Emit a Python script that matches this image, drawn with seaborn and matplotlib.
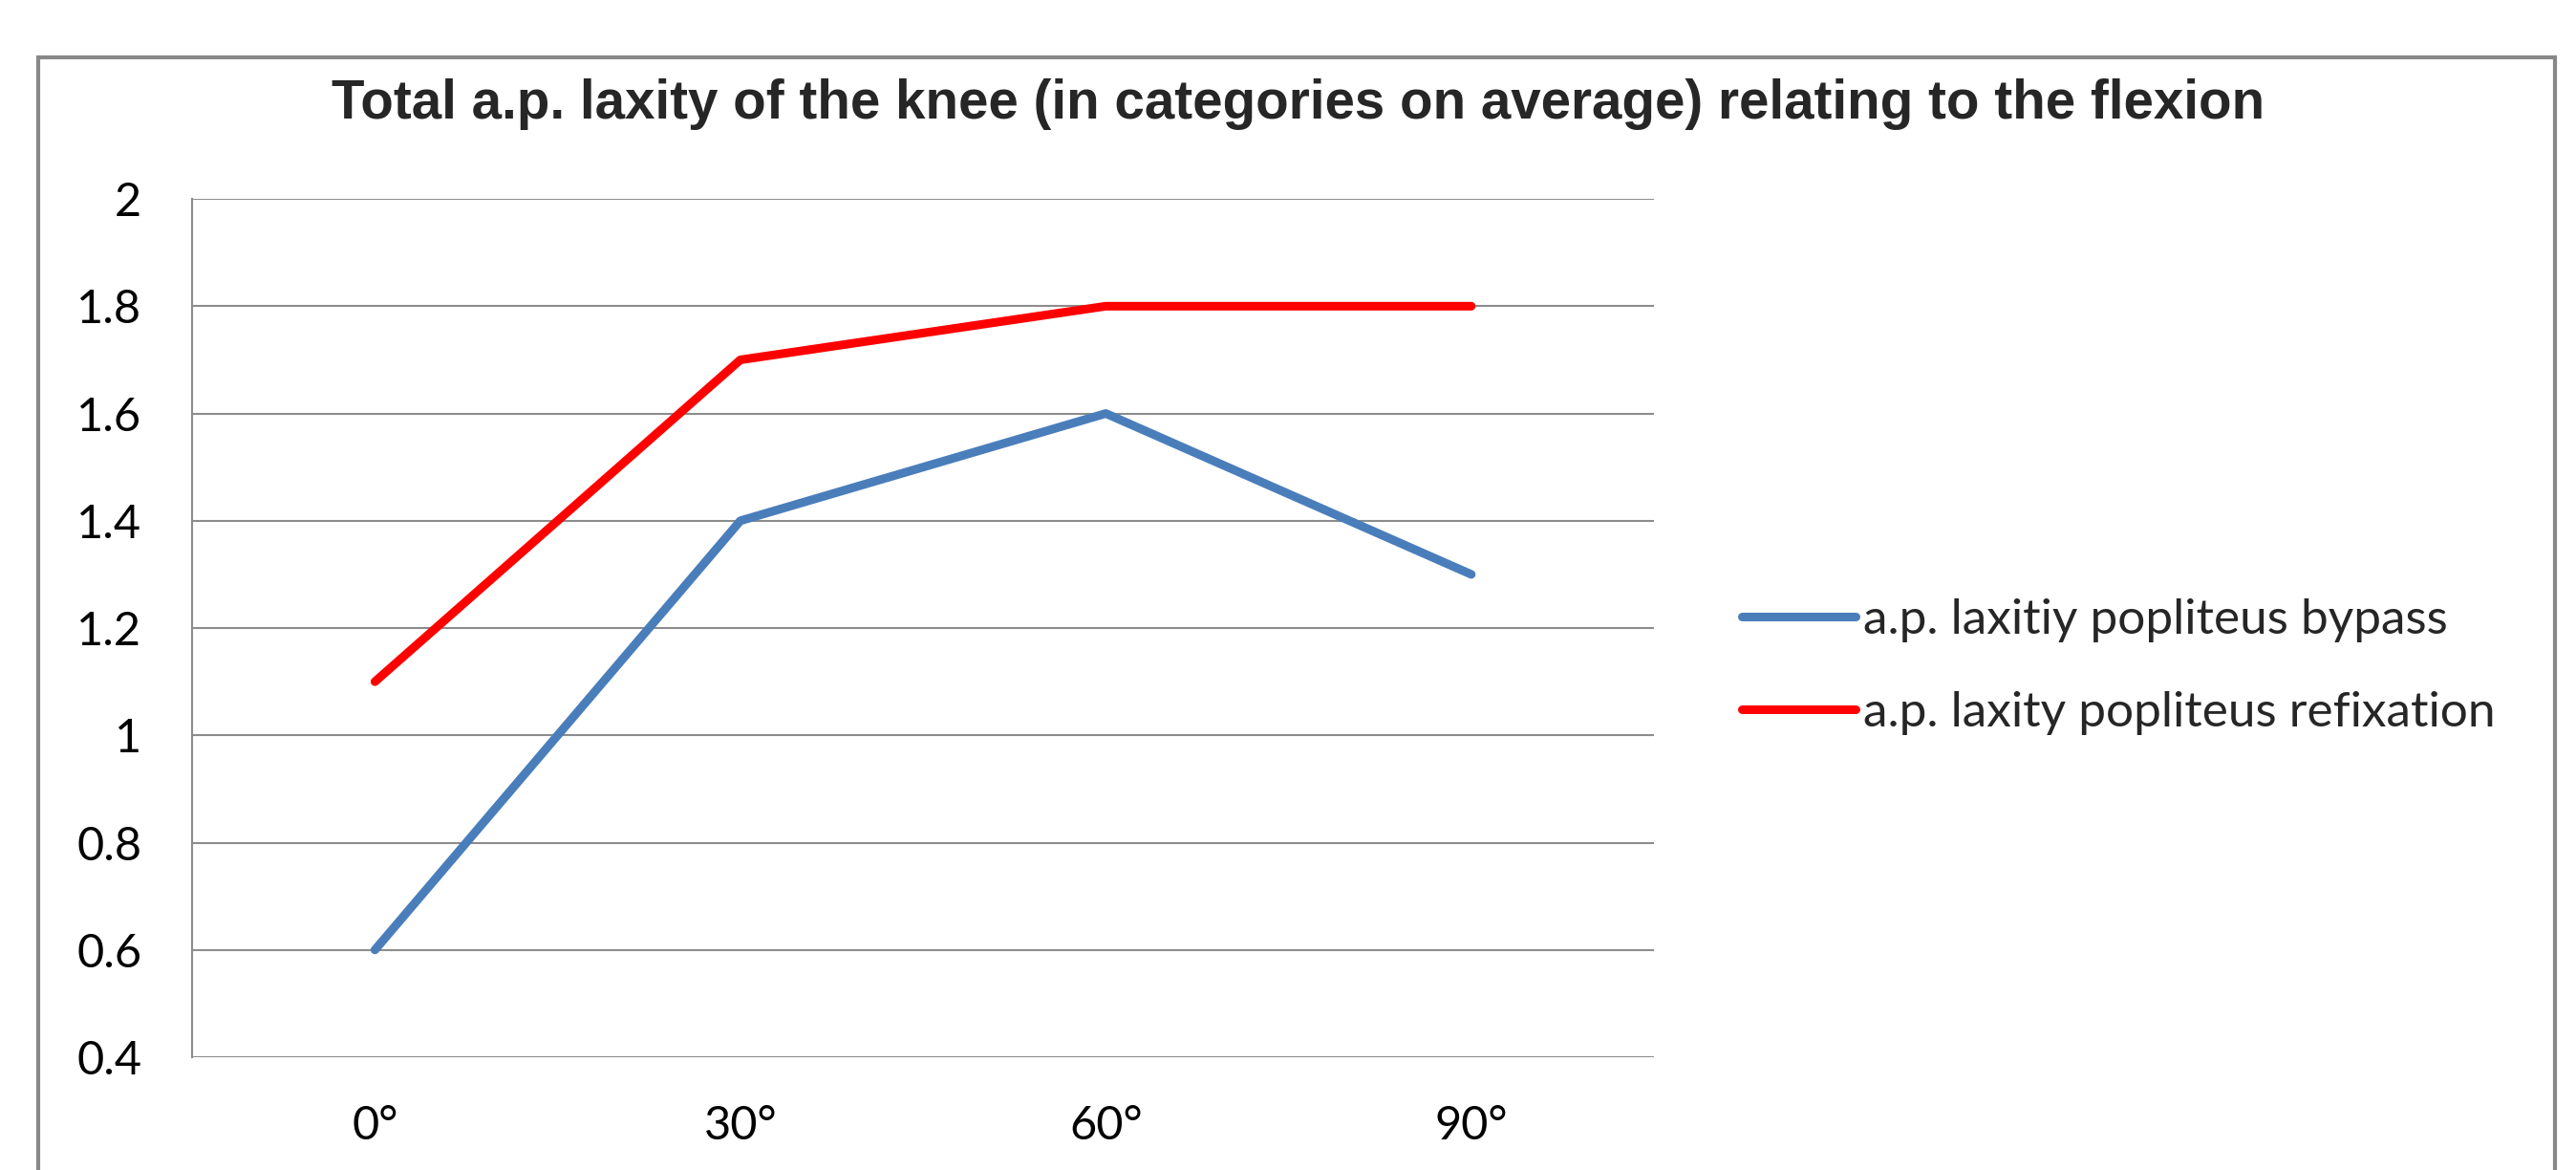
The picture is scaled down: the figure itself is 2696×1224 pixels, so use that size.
import pandas as pd
import matplotlib.pyplot as plt
import seaborn as sns
from matplotlib.patches import Rectangle

# Chart data
angles = ['0°', '30°', '60°', '90°']
bypass = [0.6, 1.4, 1.6, 1.3]
refixation = [1.1, 1.7, 1.8, 1.8]
series_names = ['a.p. laxitiy popliteus bypass', 'a.p. laxity popliteus refixation']
y_ticks = [0.4, 0.6, 0.8, 1.0, 1.2, 1.4, 1.6, 1.8, 2.0]
y_labels = ['0.4', '0.6', '0.8', '1', '1.2', '1.4', '1.6', '1.8', '2']
title = 'Total a.p. laxity of the knee (in categories on average) relating to the flexion'

# long-form frame for seaborn
data = pd.DataFrame({
    'angle': angles * 2,
    'laxity': bypass + refixation,
    'series': [series_names[0]] * len(angles) + [series_names[1]] * len(angles),
})

sns.set_style('white')
plt.rcParams['font.family'] = ['Lato', 'DejaVu Sans']

fig = plt.figure(figsize=(26.96, 12.24), dpi=100)
ax = fig.add_axes([0.0746, 0.0964, 0.5675, 0.7336])

sns.lineplot(data=data, x='angle', y='laxity', hue='series',
             palette={series_names[0]: '#4A7EBB', series_names[1]: '#FF0000'},
             linewidth=6.5, sort=False, ax=ax)

ax.set_xlim(-0.5, 3.5)
ax.set_ylim(0.4, 2.0)
ax.set_yticks(y_ticks)
ax.set_yticklabels(y_labels)
ax.set_xlabel('')
ax.set_ylabel('')
ax.yaxis.grid(True, color='#8c8c8c', linewidth=1.5)
ax.xaxis.grid(False)
ax.tick_params(axis='both', labelsize=35, length=0, colors='black')
ax.tick_params(axis='y', pad=38)
ax.tick_params(axis='x', pad=36)
for side in ['top', 'right', 'bottom']:
    ax.spines[side].set_visible(False)
ax.spines['left'].set_color('#8c8c8c')
ax.spines['left'].set_linewidth(1.5)

# legend on the right
ax.legend(title=None, frameon=False, fontsize=37, handlelength=2.33,
          handletextpad=0.15, labelspacing=1.0, borderpad=0,
          loc='center left', bbox_to_anchor=(0.6665, 0.430),
          bbox_transform=fig.transFigure)

fig.text(0.504, 0.911, title, ha='center', va='center',
         fontsize=40.7, fontweight='bold', family=['Liberation Sans', 'DejaVu Sans'])

# outer chart border
fig.patches.append(Rectangle((0.0148, -0.02), 0.9770, 0.971, transform=fig.transFigure,
                             fill=False, edgecolor='#888888', linewidth=3))

fig.savefig('out.png', dpi=100)
